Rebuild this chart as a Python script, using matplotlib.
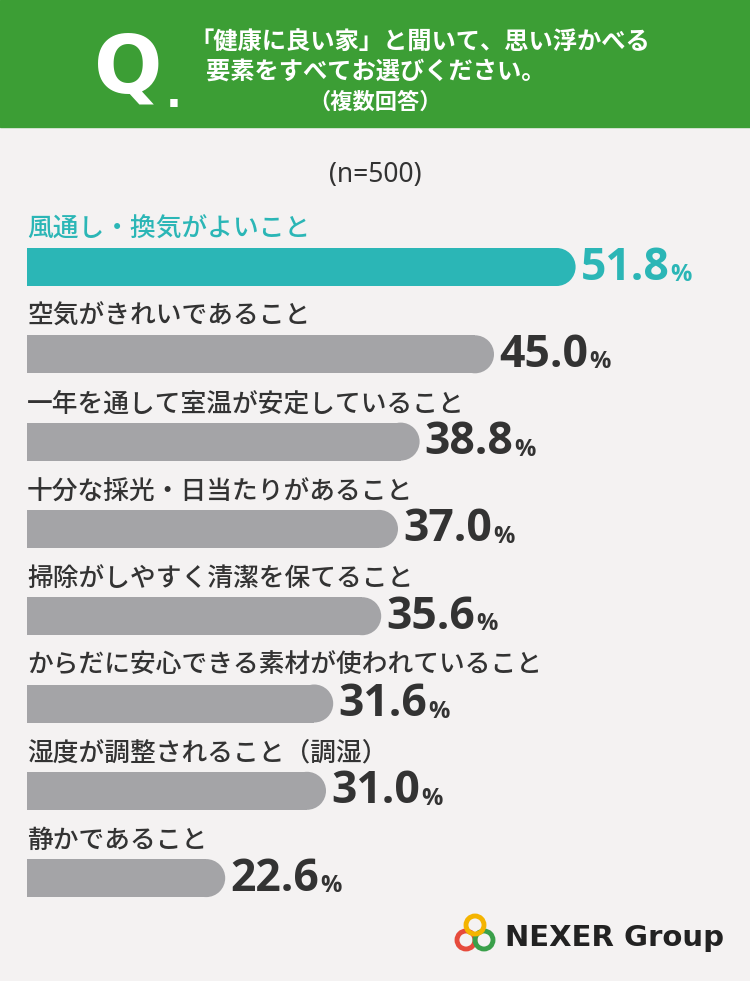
import matplotlib.pyplot as plt
from matplotlib.patches import Rectangle, Circle

plt.rcParams['font.family'] = ['Noto Sans CJK JP', 'DejaVu Sans']

labels = ['風通し・換気がよいこと', '空気がきれいであること', '一年を通して室温が安定していること',
          '十分な採光・日当たりがあること', '掃除がしやすく清潔を保てること',
          'からだに安心できる素材が使われていること', '湿度が調整されること（調湿）', '静かであること']
values = [51.8, 45.0, 38.8, 37.0, 35.6, 31.6, 31.0, 22.6]

teal = '#2bb6b6'
gray = '#a4a4a7'

fig = plt.figure(figsize=(7.5, 9.81), dpi=100)
fig.patch.set_facecolor('#f4f2f2')
ax = fig.add_axes([0, 0, 1, 1])
ax.set_xlim(0, 750)
ax.set_ylim(981, 0)
ax.axis('off')

# header
ax.add_patch(Rectangle((0, 0), 750, 127, color='#3c9e35'))
ax.text(128, 70, 'Q', color='white', fontsize=58, fontweight='bold', ha='center', va='center', family='DejaVu Sans')
ax.text(174, 95, '.', color='white', fontsize=30, fontweight='bold', ha='center', va='center', family='DejaVu Sans')
ax.text(420, 42, '「健康に良い家」と聞いて、思い浮かべる', color='white', fontsize=17.5, fontweight='bold', ha='center', va='center')
ax.text(376, 72, '要素をすべてお選びください。', color='white', fontsize=17.5, fontweight='bold', ha='center', va='center')
ax.text(375, 102, '（複数回答）', color='white', fontsize=16, fontweight='bold', ha='center', va='center')

ax.text(375, 175, '(n=500)', color='#333333', fontsize=19, ha='center', va='center', family='Noto Sans')

x0, scale = -46, 12.0
step = 87.3
for i, (lab, v) in enumerate(zip(labels, values)):
    c = teal if i == 0 else gray
    tc = teal if i == 0 else '#333333'
    ly = 229 + i * step
    by = 267 + i * step
    ax.text(27, ly, lab, color=tc, fontsize=18.5, fontweight='medium', ha='left', va='center')
    xe = x0 + v * scale
    ax.add_patch(Rectangle((27, by - 19), xe - 19 - 27, 38, color=c, lw=0))
    ax.add_patch(Circle((xe - 19, by), 19, color=c, lw=0))
    t = ax.text(xe + 5, by + 1, f'{v:.1f}', color=tc, fontsize=32,
                fontweight='bold', ha='left', va='center', family='Open Sans')
    fig.canvas.draw()
    bb = t.get_window_extent()
    ax.text(bb.x1 + 1, by + 8, '%', color=tc, fontsize=17,
            fontweight='bold', ha='left', va='center', family='Open Sans')

# logo
for (cx, cy, col) in [(466, 940, '#e64b3c'), (484, 940, '#3aa04a'), (475, 925, '#f4b400')]:
    ax.add_patch(Circle((cx, cy), 9, fill=False, ec=col, lw=3.5))
ax.text(505, 938, 'NEXER Group', color='#222222', fontsize=21, fontweight='bold', ha='left', va='center', family='DejaVu Sans')

fig.savefig('out.png', dpi=100, facecolor=fig.get_facecolor())
